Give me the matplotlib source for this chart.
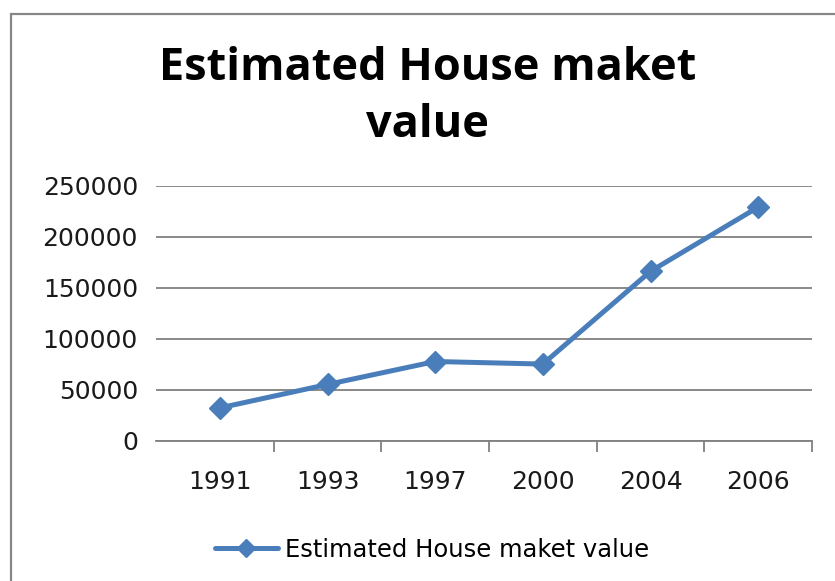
import matplotlib
matplotlib.use("Agg")
import matplotlib.pyplot as plt
from matplotlib.patches import Rectangle
from matplotlib.ticker import FixedLocator, NullFormatter

years = ["1991", "1993", "1997", "2000", "2004", "2006"]
values = [32000, 55000, 77500, 75000, 166000, 229000]
yticks = [0, 50000, 100000, 150000, 200000, 250000]
title = "Estimated House maket value"
series_name = "Estimated House maket value"

W, H = 835, 581
fig = plt.figure(figsize=(W / 100, H / 100), dpi=100)
fig.patch.set_facecolor("white")

# chart border
fig.patches.append(Rectangle((10.5 / W, -0.1), 1.2, 1 - 13.5 / H + 0.1,
                             transform=fig.transFigure, fill=False,
                             edgecolor="#878787", linewidth=1.6))

left, right = 156 / W, 812 / W
bottom, top = 1 - 440.5 / H, 1 - 185.7 / H
ax = fig.add_axes([left, bottom, right - left, top - bottom])

blue = "#4A7EBB"
x = list(range(len(years)))
ax.plot(x, values, color=blue, linewidth=3.6, marker="D", markersize=11,
        markeredgecolor=blue, markerfacecolor=blue, label=series_name,
        solid_capstyle="round", zorder=3)

ax.set_ylim(0, 250000)
ax.set_yticks(yticks)
ax.set_yticklabels([str(v) for v in yticks])
ax.set_xlim(-0.593, 5.5)
ax.set_xticks(x)
ax.set_xticklabels(years)
ax.xaxis.set_minor_locator(FixedLocator([0.5, 1.5, 2.5, 3.5, 4.5, 5.5]))
ax.xaxis.set_minor_formatter(NullFormatter())

ax.grid(axis="y", color="#808080", linewidth=1.3, zorder=0)
for s in ["top", "right", "left"]:
    ax.spines[s].set_visible(False)
ax.spines["bottom"].set_color("#808080")
ax.spines["bottom"].set_linewidth(1.3)

ax.tick_params(axis="y", length=0, pad=13, labelsize=18, labelcolor="#1a1a1a")
ax.tick_params(axis="x", which="major", length=0, pad=21, labelsize=18,
               labelcolor="#1a1a1a")
ax.tick_params(axis="x", which="minor", length=8, width=1.3, color="#808080",
               direction="out")
for lab in ax.get_xticklabels() + ax.get_yticklabels():
    lab.set_fontfamily("DejaVu Sans")

# title
fig.text(428 / W, 1 - 80 / H, "Estimated House maket", ha="center",
         va="baseline", fontsize=32.5, fontweight="bold", family="Open Sans")
fig.text(428 / W, 1 - 137 / H, "value", ha="center", va="baseline",
         fontsize=32.5, fontweight="bold", family="Open Sans")

# legend
leg = fig.legend(loc="center", bbox_to_anchor=(432 / W, 1 - 550 / H),
                 frameon=False, handlelength=2.6, handletextpad=0.3,
                 markerscale=0.8,
                 prop={"family": ["DejaVu Sans"], "size": 17.5})

fig.savefig("out.png", dpi=100, facecolor="white")
